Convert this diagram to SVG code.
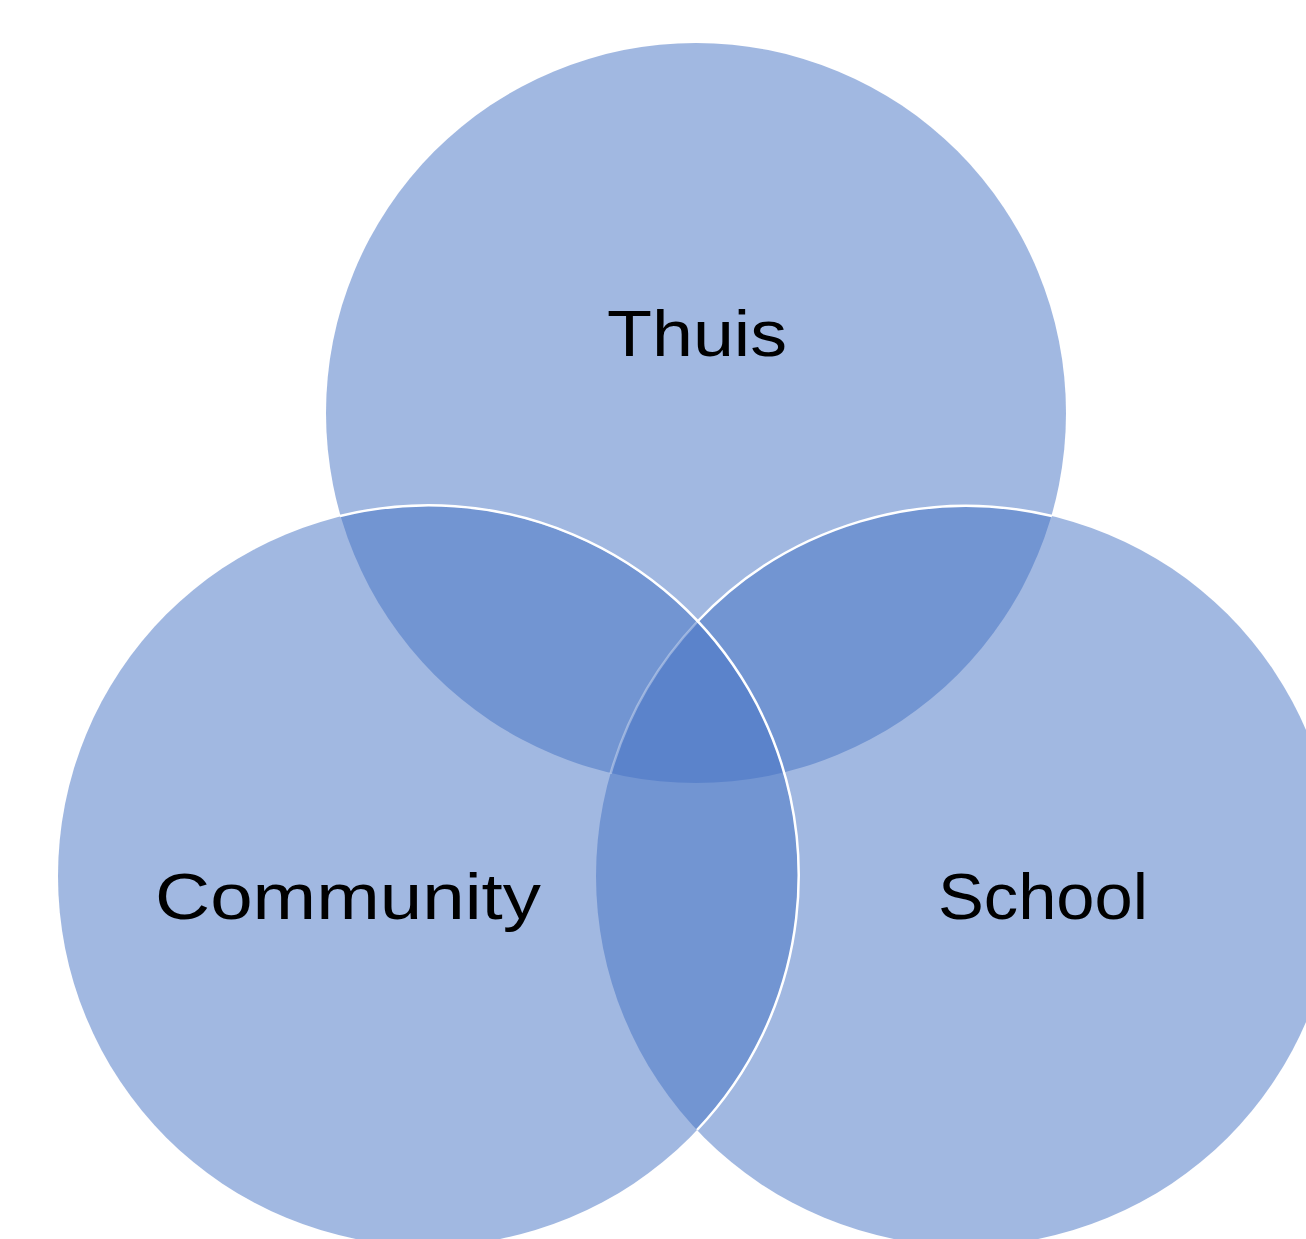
<svg xmlns="http://www.w3.org/2000/svg" width="1306" height="1239" viewBox="0 0 1306 1239">
<style>
.c{fill:#4472C4;fill-opacity:0.5;stroke:none}
.w{fill:none;stroke:#FFFFFF;stroke-width:2.5}
.t{font-family:"Liberation Sans",Arial,sans-serif;font-size:64px;fill:#000000}
</style>
<rect width="1306" height="1239" fill="#FFFFFF"/>
<g id="thuis">
<circle class="c" cx="696" cy="413" r="370"/>
<text class="t" x="607" y="356" textLength="180" lengthAdjust="spacingAndGlyphs">Thuis</text>
</g>
<g id="school">
<circle class="c" cx="966" cy="876" r="370"/>
<text class="t" x="938" y="919" textLength="210" lengthAdjust="spacingAndGlyphs">School</text>
</g>
<g id="community">
<circle class="c" cx="428" cy="876" r="370"/>
<text class="t" x="155" y="919" textLength="386" lengthAdjust="spacingAndGlyphs">Community</text>
</g>
<g id="connectors">
<path class="w" d="M340,516 A370,370 0 0 1 697,1130"/>
<path class="w" d="M697,622 A370,370 0 0 1 1052,516"/>
<path class="w" stroke-opacity="0.35" d="M697,622 A370,370 0 0 0 610.6,773.6"/>
</g>
</svg>
